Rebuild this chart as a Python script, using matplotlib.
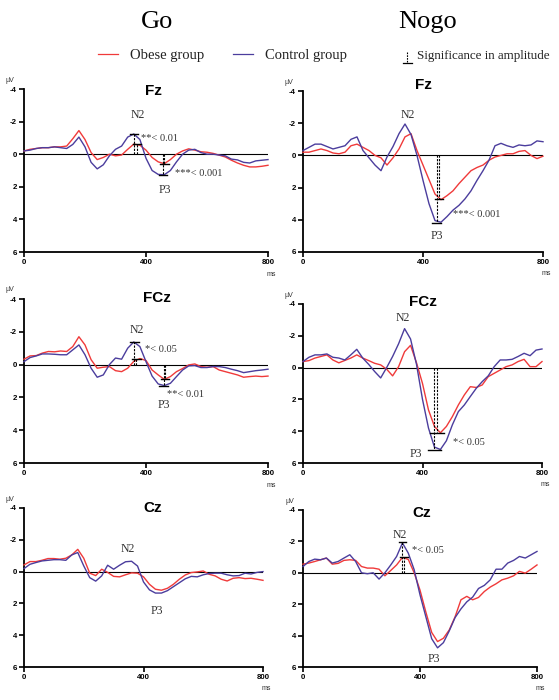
import matplotlib
matplotlib.use("Agg")
import matplotlib.pyplot as plt
from matplotlib.lines import Line2D

plt.rcParams['axes.unicode_minus'] = False

# ---- data (uV, negative up) ----
time_ms = list(range(0, 801, 20))

fz_go_obese = [-0.2, -0.3, -0.35, -0.4, -0.4, -0.45, -0.45, -0.5, -0.95, -1.45, -0.9, -0.1, 0.33, 0.2, 0.0,
               0.1, 0.05, -0.3, -0.62, -0.55, -0.25, 0.2, 0.47, 0.58, 0.33, 0.0, -0.2, -0.33, -0.25, -0.15,
               -0.12, -0.05, 0.06, 0.17, 0.37, 0.54, 0.68, 0.78, 0.78, 0.74, 0.68]
fz_go_control = [-0.2, -0.25, -0.35, -0.4, -0.4, -0.45, -0.4, -0.35, -0.6, -1.05, -0.45, 0.5, 0.9, 0.65, 0.1,
                 -0.3, -0.5, -1.05, -1.24, -0.9, 0.25, 1.0, 1.24, 1.26, 1.0, 0.47, 0.0, -0.25, -0.3, -0.1,
                 0.0, 0.0, 0.05, 0.1, 0.3, 0.35, 0.5, 0.54, 0.41, 0.37, 0.33]

fz_nogo_obese = [-0.2, -0.2, -0.3, -0.4, -0.3, -0.15, -0.1, -0.2, -0.6, -0.7, -0.5, -0.3, 0.0, 0.15, 0.6,
                 0.15, -0.4, -1.15, -1.35, -0.3, 0.6, 1.5, 2.4, 2.75, 2.5, 2.2, 1.75, 1.35, 0.95, 0.75,
                 0.6, 0.3, 0.1, 0.0, -0.1, -0.1, -0.25, -0.3, 0.0, 0.2, 0.05]
fz_nogo_control = [-0.3, -0.5, -0.7, -0.7, -0.55, -0.4, -0.5, -0.6, -1.0, -1.15, -0.3, 0.15, 0.6, 0.95, 0.1,
                   -0.55, -1.35, -1.95, -1.3, 0.0, 1.55, 3.0, 4.05, 4.15, 3.8, 3.4, 3.1, 2.7, 2.2, 1.55,
                   0.95, 0.3, -0.6, -0.75, -0.6, -0.5, -0.65, -0.6, -0.65, -0.9, -0.85]

fcz_go_obese = [-0.33, -0.53, -0.55, -0.7, -0.8, -0.78, -0.83, -0.8, -1.1, -1.7, -1.2, -0.3, 0.22, 0.16, 0.12,
                0.37, 0.43, 0.22, -0.2, -0.37, -0.25, 0.33, 0.63, 0.9, 0.73, 0.43, 0.24, 0.02, -0.04, 0.12,
                0.16, 0.12, 0.33, 0.43, 0.53, 0.63, 0.77, 0.73, 0.7, 0.73, 0.7]
fcz_go_control = [-0.18, -0.43, -0.53, -0.65, -0.65, -0.63, -0.6, -0.6, -0.9, -1.2, -0.6, 0.22, 0.77, 0.63, 0.0,
                  -0.4, -0.33, -1.0, -1.38, -1.1, -0.18, 0.7, 1.18, 1.28, 1.14, 0.73, 0.33, 0.08, 0.06, 0.18,
                  0.18, 0.12, 0.12, 0.18, 0.28, 0.37, 0.49, 0.43, 0.37, 0.33, 0.28]

fcz_nogo_obese = [-0.38, -0.44, -0.6, -0.7, -0.8, -0.48, -0.3, -0.45, -0.6, -0.8, -0.6, -0.44, -0.27, -0.17, 0.1,
                  0.52, -0.06, -1.0, -1.4, -0.3, 1.0, 2.66, 3.7, 4.1, 3.7, 3.08, 2.35, 1.72, 1.2, 1.25,
                  1.09, 0.57, 0.36, 0.15, -0.06, -0.17, -0.38, -0.52, -0.06, -0.06, -0.38]
fcz_nogo_control = [-0.38, -0.65, -0.8, -0.8, -0.86, -0.65, -0.6, -0.48, -0.8, -1.15, -0.6, -0.2, 0.25, 0.65, 0.0,
                    -0.7, -1.5, -2.45, -1.8, -0.2, 2.0, 3.8, 5.0, 5.15, 4.6, 3.6, 2.77, 2.35, 1.82, 1.3,
                    0.88, 0.52, -0.06, -0.48, -0.48, -0.52, -0.7, -0.9, -0.75, -1.1, -1.17]

cz_go_obese = [-0.42, -0.63, -0.63, -0.71, -0.82, -0.82, -0.78, -0.84, -1.05, -1.4, -0.84, 0.1, 0.25, -0.15, 0.05,
               0.3, 0.33, 0.2, 0.08, 0.1, 0.33, 0.8, 1.11, 1.17, 1.05, 0.8, 0.48, 0.21, 0.06, 0.02,
               -0.04, 0.17, 0.27, 0.48, 0.59, 0.42, 0.38, 0.44, 0.42, 0.48, 0.55]
cz_go_control = [-0.19, -0.46, -0.57, -0.67, -0.71, -0.75, -0.75, -0.71, -1.05, -1.2, -0.36, 0.38, 0.6, 0.27, -0.4,
                 -0.15, -0.4, -0.62, -0.65, -0.35, 0.65, 1.15, 1.35, 1.35, 1.2, 0.95, 0.7, 0.45, 0.3, 0.33,
                 0.2, 0.12, 0.1, 0.1, 0.2, 0.27, 0.25, 0.1, 0.15, 0.05, 0.0]

cz_nogo_obese = [-0.55, -0.62, -0.72, -0.83, -0.94, -0.55, -0.6, -0.79, -0.83, -0.79, -0.4, -0.3, -0.3, -0.23, 0.19,
                 -0.15, -0.5, -0.98, -0.85, 0.0, 1.1, 2.5, 3.8, 4.38, 4.17, 3.64, 2.8, 1.72, 1.5, 1.72,
                 1.57, 1.19, 0.91, 0.7, 0.45, 0.34, 0.19, -0.09, 0.02, -0.23, -0.5]
cz_nogo_control = [-0.4, -0.72, -0.87, -0.83, -0.94, -0.62, -0.72, -0.94, -1.15, -0.72, 0.0, 0.06, 0.0, 0.4, 0.0,
                   -0.5, -1.04, -1.9, -1.25, -0.2, 1.4, 2.8, 4.2, 4.78, 4.45, 3.7, 2.85, 2.3, 1.85, 1.55,
                   1.0, 0.8, 0.45, -0.23, -0.23, -0.62, -0.79, -1.04, -0.94, -1.15, -1.36]

# significance markers: (control latency, control amp, obese latency, obese amp, p text)
fz_go_sig = [(360, -1.24, 370, -0.62, "**< 0.01"), (455, 1.26, 460, 0.58, "***< 0.001")]
fz_nogo_sig = [(445, 4.2, 454, 2.73, "***< 0.001")]
fcz_go_sig = [(362, -1.4, 368, -0.37, "*< 0.05"), (458, 1.28, 462, 0.9, "**< 0.01")]
fcz_nogo_sig = [(440, 5.18, 449, 4.13, "*< 0.05")]
cz_go_sig = []
cz_nogo_sig = [(340, -1.94, 346, -1.0, "*< 0.05")]

RED = "#f03a3a"
BLUE = "#4b3d9d"
SERIF = "Liberation Serif"
SANS = "Liberation Sans"
W, H = 559.0, 700.0

fig = plt.figure(figsize=(5.59, 7.0), dpi=100)


def px_rect(left, right, top, bottom):
    return [left / W, 1 - bottom / H, (right - left) / W, (bottom - top) / H]


def draw_panel(rect, name, obese, control, sig, title_xy, n2_xy, p3_xy, sig_xy, cap):
    ax = fig.add_axes(rect)
    ax.axhline(0, color="black", lw=0.8, zorder=2)
    ax.plot(time_ms, obese, color=RED, lw=1.0, zorder=3, clip_on=False)
    ax.plot(time_ms, control, color=BLUE, lw=1.0, zorder=3, clip_on=False)
    ax.set_xlim(0, 800)
    ax.set_ylim(6, -4)
    ax.set_xticks([0, 400, 800])
    ax.set_yticks([-4, -2, 0, 2, 4, 6])
    for s in ["top", "right"]:
        ax.spines[s].set_visible(False)
    for s in ["left", "bottom"]:
        ax.spines[s].set_linewidth(1.3)
    ax.tick_params(length=3.5, width=1.2, labelsize=5.7, pad=1.5)
    for lab in ax.get_xticklabels() + ax.get_yticklabels():
        lab.set_fontweight("bold")
        lab.set_family(SANS)
    ax.text(title_xy[0], title_xy[1], name, fontsize=11, fontweight="bold", family=SANS,
            ha="center", va="center", clip_on=False)
    ax.text(-0.058, 1.055, "µV", transform=ax.transAxes, fontsize=5, family=SANS,
            ha="center", va="center", color="#333333")
    ax.text(1.015, -0.135, "ms", transform=ax.transAxes, fontsize=5, family=SANS,
            ha="center", va="center", color="#333333")
    ax.text(n2_xy[0], n2_xy[1], "N2", fontsize=8.5, family=SERIF, color="#333333",
            ha="center", va="center")
    ax.text(p3_xy[0], p3_xy[1], "P3", fontsize=8.5, family=SERIF, color="#333333",
            ha="center", va="center", clip_on=False)
    for (tc, vc, to, vo, txt), (tx, ty) in zip(sig, sig_xy):
        for t, v in ((tc, vc), (to, vo)):
            ax.plot([t, t], [0, v], color="black", lw=0.8, ls=(0, (2.0, 1.2)), zorder=4)
            ax.plot([t - cap / 2, t + cap / 2], [v, v], color="black", lw=1.0, zorder=4)
        ax.text(tx, ty, txt, fontsize=7.5, family=SERIF, color="#333333",
                ha="left", va="center")
    return ax


# Go column
draw_panel(px_rect(24, 268, 89, 252), "Fz", fz_go_obese, fz_go_control, fz_go_sig,
           (423, -3.86), (374, -2.4), (462, 2.2), [(385, -0.95), (495, 1.17)], 28)
draw_panel(px_rect(24, 268, 299, 463), "FCz", fcz_go_obese, fcz_go_control, fcz_go_sig,
           (436, -4.07), (370, -2.1), (459, 2.45), [(397, -0.9), (469, 1.85)], 28)
draw_panel(px_rect(24, 263, 508, 667), "Cz", cz_go_obese, cz_go_control, cz_go_sig,
           (432, -4.0), (348, -1.43), (445, 2.47), [], 28)

# Nogo column
draw_panel(px_rect(303, 543, 91, 252), "Fz", fz_nogo_obese, fz_nogo_control, fz_nogo_sig,
           (400, -4.35), (350, -2.5), (447, 5.0), [(500, 3.66)], 28)
draw_panel(px_rect(303, 542, 304, 463), "FCz", fcz_nogo_obese, fcz_nogo_control, fcz_nogo_sig,
           (402, -4.1), (335, -3.1), (378, 5.43), [(502, 4.74)], 45)
draw_panel(px_rect(303, 537, 510, 667), "Cz", cz_nogo_obese, cz_nogo_control, cz_nogo_sig,
           (407, -3.83), (332, -2.43), (448, 5.5), [(373, -1.4)], 26)

# column headers
fig.text(157 / W, 1 - 22 / H, "Go", fontsize=19, family=SERIF, ha="center", va="center")
fig.text(428 / W, 1 - 22 / H, "Nogo", fontsize=19, family=SERIF, ha="center", va="center")

# legend row
ly = 1 - 54 / H
fig.add_artist(Line2D([98 / W, 118 / W], [ly, ly], color=RED, lw=0.9))
fig.text(130 / W, 1 - 56 / H, "Obese group", fontsize=10.5, family=SERIF, ha="left", va="center", color="#222222")
fig.add_artist(Line2D([233 / W, 253 / W], [ly, ly], color=BLUE, lw=0.9))
fig.text(265 / W, 1 - 56 / H, "Control group", fontsize=10.5, family=SERIF, ha="left", va="center", color="#222222")
fig.add_artist(Line2D([407.5 / W, 407.5 / W], [1 - 52 / H, 1 - 63 / H], color="black", lw=0.8, ls=(0, (1.5, 1.0))))
fig.add_artist(Line2D([403 / W, 412 / W], [1 - 63 / H, 1 - 63 / H], color="black", lw=0.9))
fig.text(417 / W, 1 - 56 / H, "Significance in amplitude", fontsize=9.4, family=SERIF, ha="left", va="center", color="#222222")

fig.savefig("out.png", dpi=100)
